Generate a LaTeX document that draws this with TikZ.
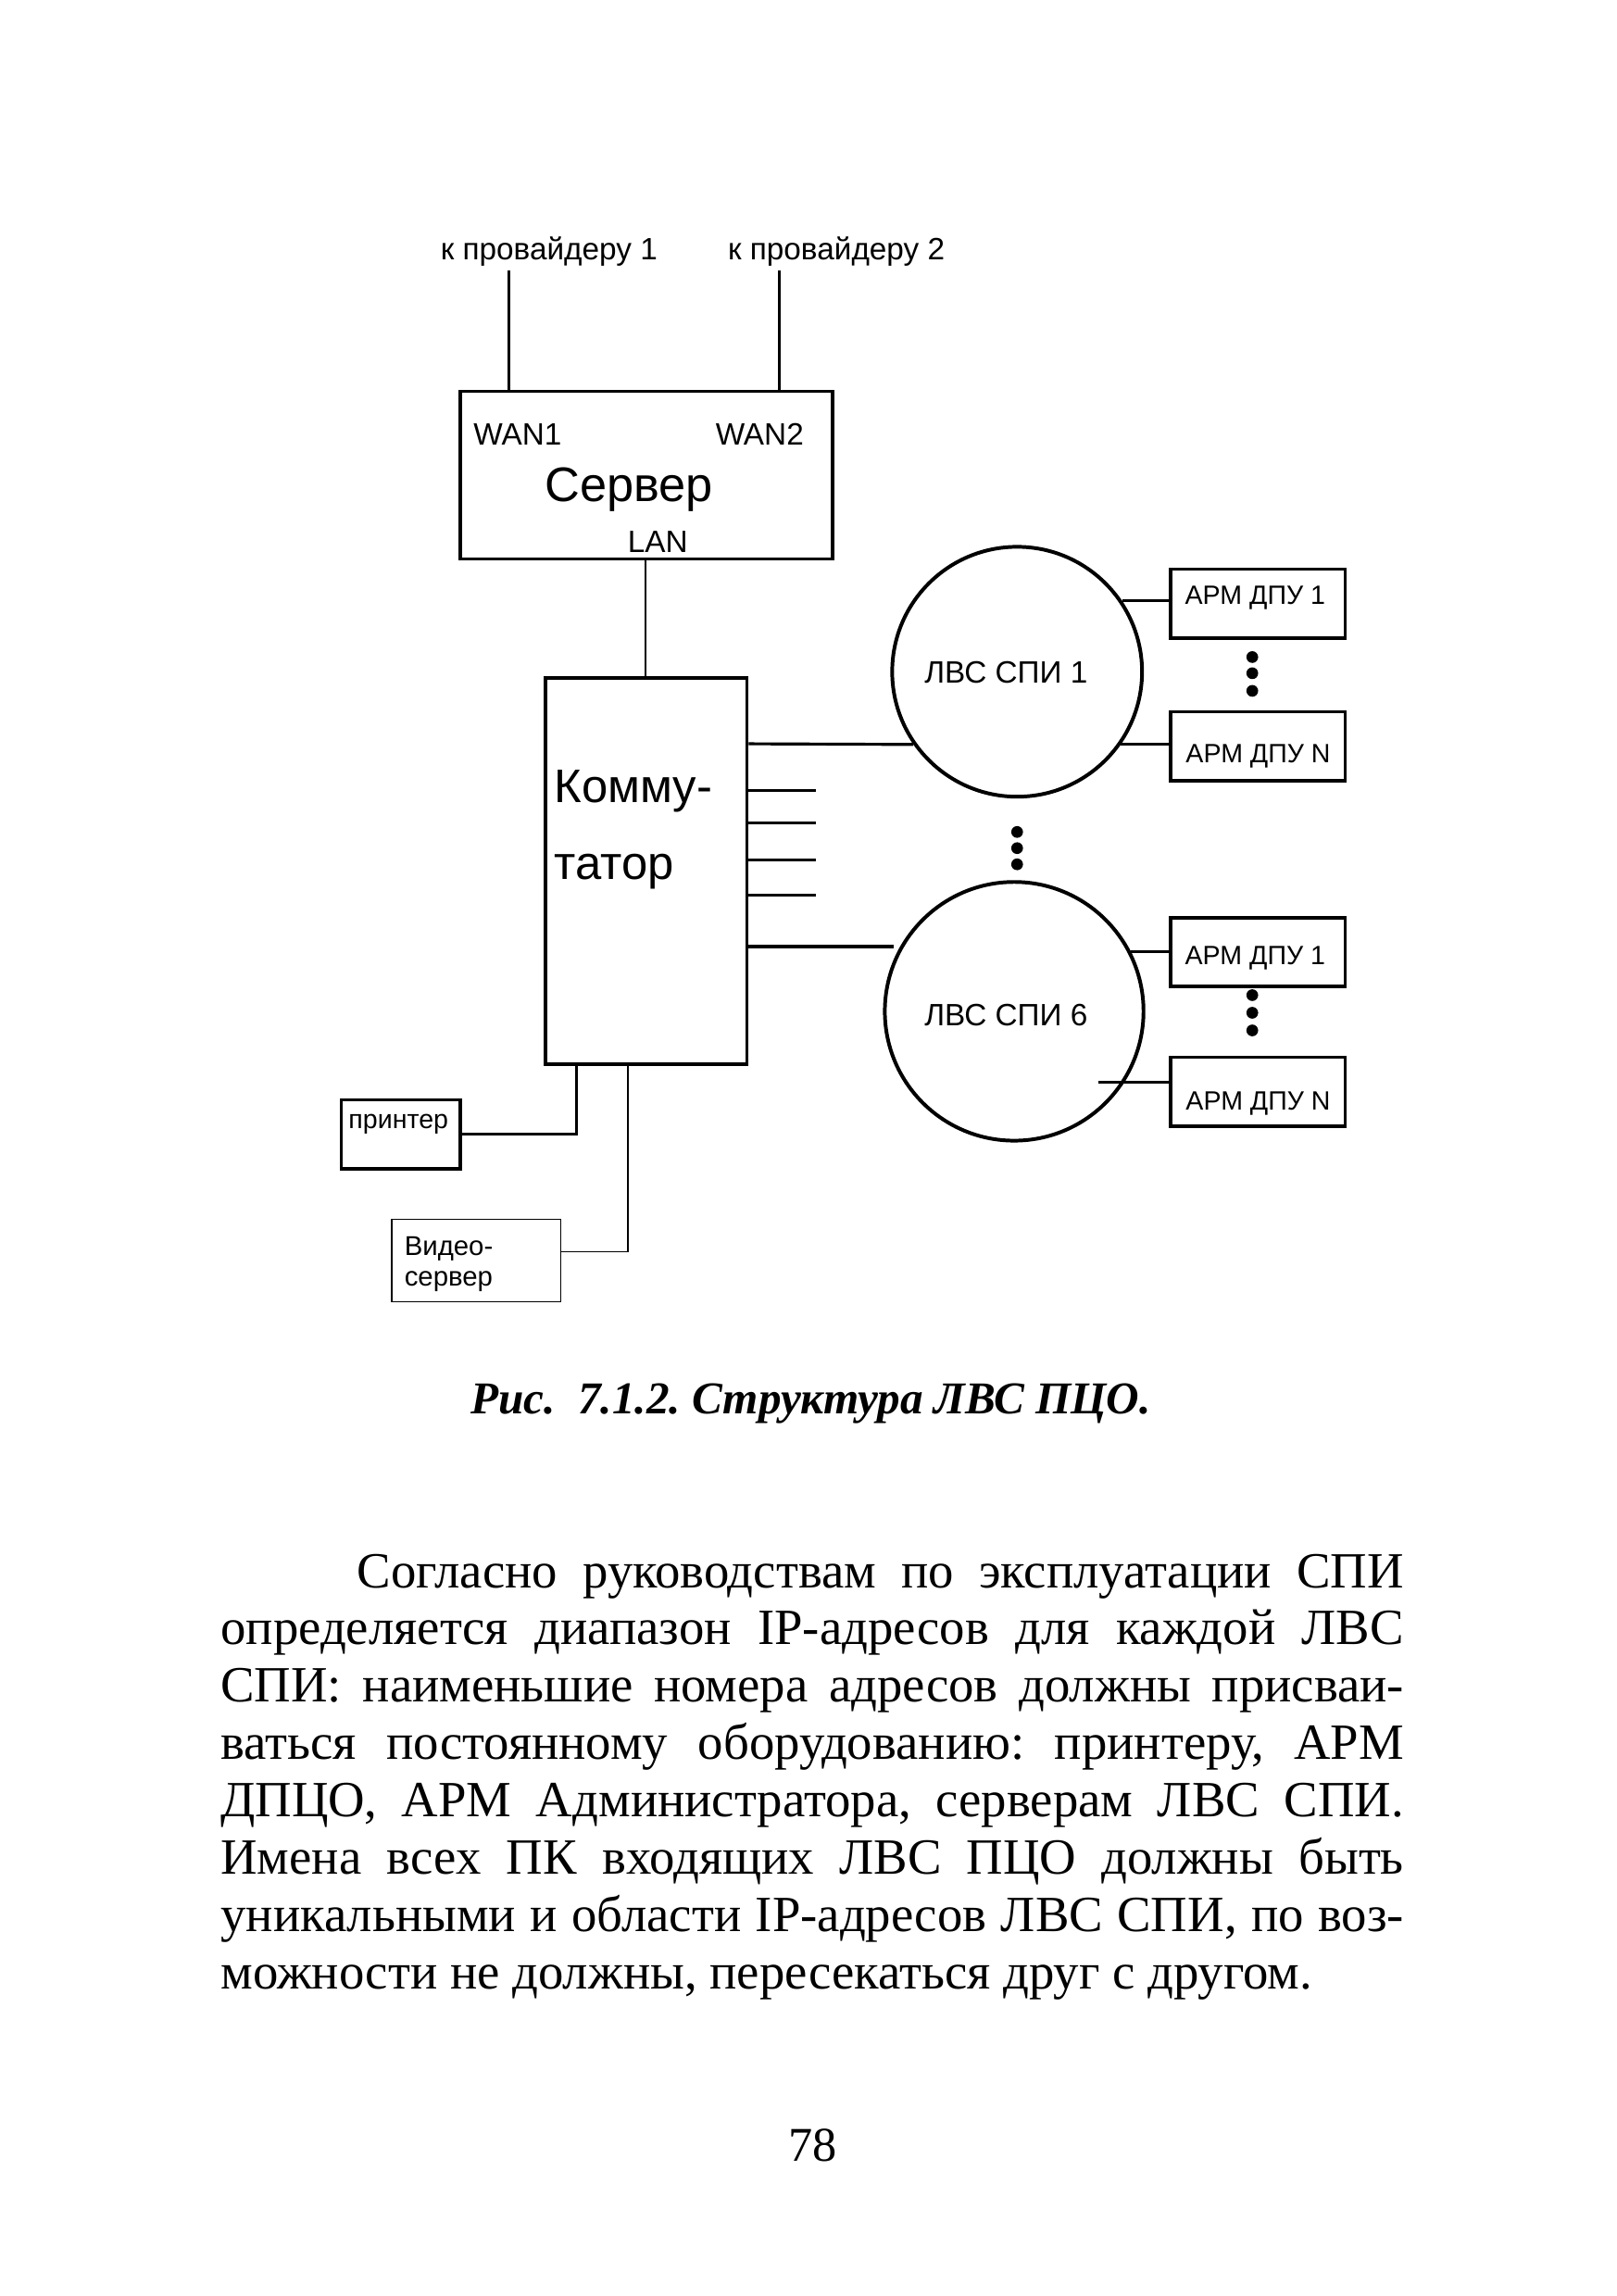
\documentclass[tikz,border=0pt]{standalone}
\usepackage{fontspec}
\setmainfont{Liberation Serif}
\newfontfamily\arialf{Liberation Sans}
\frenchspacing
\begin{document}
\begin{tikzpicture}[x=1pt,y=-1pt,
  thickbox/.style={draw, line width=2.4pt, inner sep=0pt, rectangle},
  thinbox/.style={draw, line width=1pt, inner sep=0pt, rectangle},
  lan/.style={draw, line width=2.5pt, circle, inner sep=0pt, minimum size=#1},
  wire/.style={line width=2pt},
  thinwire/.style={line width=1.1pt},
  txt/.style={inner sep=0pt, font=\arialf\fontsize{21}{21}\selectfont},
  armtxt/.style={inner sep=0pt, font=\arialf\fontsize{18}{18}\selectfont},
  bigtxt/.style={inner sep=0pt, font=\arialf\fontsize{33}{33}\selectfont},
  dot/.style={fill, circle, inner sep=0pt, minimum width=7pt, minimum height=8pt},
  para/.style={inner sep=0pt, anchor=base west, font=\fontsize{34.5}{39}\selectfont}
]
\useasboundingbox (0,0) rectangle (1100,1562);
\fill[white] (0,0) rectangle (1100,1562);

% server
\node[thickbox, minimum width=253pt, minimum height=114pt, anchor=north west] (srv) at (312,265) {};
\node[txt, anchor=base west] (wan1) at (322,303) {WAN1};
\node[txt, anchor=base east] (wan2) at (547,303) {WAN2};
\node[bigtxt, anchor=base] (srvt) at (428,341) {Сервер};
\node[txt, anchor=base] (lant) at (447.5,376) {LAN};
\node[txt, anchor=base] (prov1) at (373.5,177) {к провайдеру 1};
\node[txt, anchor=base] (prov2) at (569,177) {к провайдеру 2};
\coordinate (pr1) at (346,184);
\coordinate (pr2) at (530,184);
\draw[wire] (pr1) -- (pr1 |- srv.north);
\draw[wire] (pr2) -- (pr2 |- srv.north);

% switch
\node[thickbox, minimum width=137pt, minimum height=263pt, anchor=north west] (sw) at (370,460) {};
\node[inner sep=0pt, anchor=base west, font=\arialf\fontsize{32}{32}\selectfont] (swt1) at (377,546) {Комму-};
\node[inner sep=0pt, anchor=base west, font=\arialf\fontsize{32}{32}\selectfont] (swt2) at (377,598) {татор};
\draw[line width=1.5pt] (srv.south -| 439,0) -- (sw.north -| 439,0);

% LAN circles
\node[lan=170pt] (l1) at (692,457) {};
\node[txt, anchor=base] (l1t) at (684.5,465) {ЛВС СПИ 1};
\node[lan=176pt] (l6) at (690,688) {};
\node[txt, anchor=base] (l6t) at (684.5,698) {ЛВС СПИ 6};

\draw[wire] (sw.east |- 0,506) -- (l1.215.2);
\coordinate (e6) at (608,644);
\draw[wire] (sw.east |- e6) -- (e6);
\foreach \yy in {538,560,585,609} {
  \draw[wire] (sw.east |- 0,\yy) -- ++(46,0);
}
\foreach \yy in {566,577,588} { \node[dot] at (692,\yy) {}; }

% ARM boxes
\node[thickbox, minimum width=119pt, minimum height=47pt, anchor=north west] (a1) at (795,386) {};
\node[armtxt, anchor=base] (a1t) at (854,411) {АРМ ДПУ 1};
\node[thickbox, minimum width=119pt, minimum height=47pt, anchor=north west] (a2) at (795,483) {};
\node[armtxt, anchor=base] (a2t) at (856,519) {АРМ ДПУ N};
\node[thickbox, minimum width=119pt, minimum height=47pt, anchor=north west] (a3) at (795,623) {};
\node[armtxt, anchor=base] (a3t) at (854,656) {АРМ ДПУ 1};
\node[thickbox, minimum width=119pt, minimum height=47pt, anchor=north west] (a4) at (795,718) {};
\node[armtxt, anchor=base] (a4t) at (856,755) {АРМ ДПУ N};
\foreach \yy in {447,458,470} { \node[dot] at (852,\yy) {}; }
\foreach \yy in {677,689,701} { \node[dot] at (852,\yy) {}; }

\draw[wire] (l1.34) -- (l1.34 -| a1.west);
\draw[wire] (l1.-35.2) -- (l1.-35.2 -| a2.west);
\draw[wire] (l6.27) -- (l6.27 -| a3.west);
\coordinate (c6n) at (747,736);
\draw[wire] (c6n) -- (c6n -| a4.west);

% printer and video server
\node[thickbox, minimum width=81pt, minimum height=47pt, anchor=north west] (prn) at (231,747) {};
\node[armtxt, anchor=base west] (prnt) at (237,768) {принтер};
\draw[wire] (prn.east) -| ([xshift=22pt]sw.south west);
\node[thinbox, minimum width=115pt, minimum height=56pt, anchor=north west] (vs) at (266,829) {};
\node[inner sep=0pt, anchor=base west, font=\arialf\fontsize{18.5}{18.5}\selectfont] (vst1) at (275,854) {Видео-};
\node[inner sep=0pt, anchor=base west, font=\arialf\fontsize{18.5}{18.5}\selectfont] (vst2) at (275,875) {сервер};
\draw[thinwire] ([yshift=6pt]vs.east) -| ([xshift=57pt]sw.south west);

% caption
\node[inner sep=0pt, anchor=base west, font=\fontsize{31}{31}\selectfont\bfseries\itshape] (cap) at (320,962) {Рис.\ \ 7.1.2. Структура ЛВС ПЦО.};

% paragraph
\node[para] (ln1) at (243,1080) {\hbox to 712pt{Согласно руководствам по эксплуатации СПИ}};
\node[para] (ln2) at (150,1119) {\hbox to 805pt{определяется диапазон IP-адресов для каждой ЛВС}};
\node[para] (ln3) at (150,1158) {\hbox to 805pt{СПИ: наименьшие номера адресов должны присваи-}};
\node[para] (ln4) at (150,1197) {\hbox to 805pt{ваться постоянному оборудованию: принтеру, АРМ}};
\node[para] (ln5) at (150,1236) {\hbox to 805pt{ДПЦО, АРМ Администратора, серверам ЛВС СПИ.}};
\node[para] (ln6) at (150,1275) {\hbox to 805pt{Имена всех ПК входящих ЛВС ПЦО должны быть}};
\node[para] (ln7) at (150,1314) {\hbox to 805pt{уникальными и области IP-адресов ЛВС СПИ, по воз-}};
\node[para] (ln8) at (150,1353) {можности не должны, пересекаться друг с другом.};

% page number
\node[inner sep=0pt, anchor=base, font=\fontsize{33}{33}\selectfont] (pg) at (553,1470) {78};
\end{tikzpicture}
\end{document}
